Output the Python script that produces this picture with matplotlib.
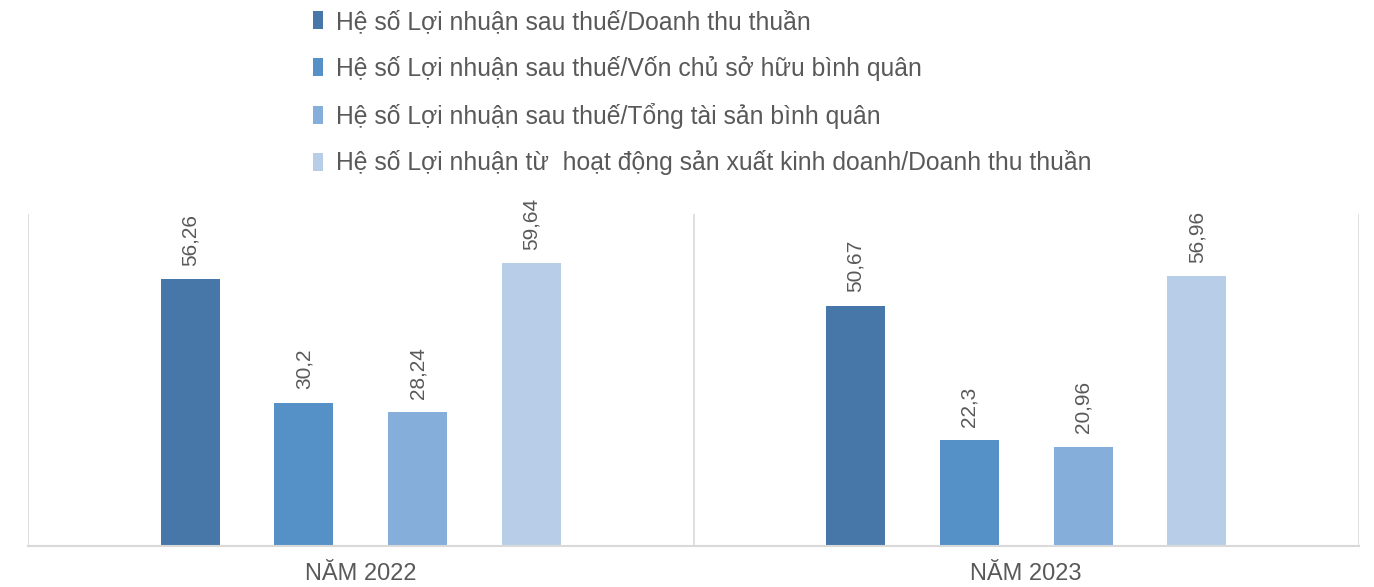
import matplotlib.pyplot as plt
from matplotlib.patches import Patch
import numpy as np

plt.rcParams['font.family'] = ['Liberation Sans', 'DejaVu Sans']

# data
categories = ["NĂM 2022", "NĂM 2023"]
series_names = [
    "Hệ số Lợi nhuận sau thuế/Doanh thu thuần",
    "Hệ số Lợi nhuận sau thuế/Vốn chủ sở hữu bình quân",
    "Hệ số Lợi nhuận sau thuế/Tổng tài sản bình quân",
    "Hệ số Lợi nhuận từ  hoạt động sản xuất kinh doanh/Doanh thu thuần",
]
loi_nhuan_doanh_thu = [56.26, 50.67]
loi_nhuan_von_csh = [30.2, 22.3]
loi_nhuan_tong_ts = [28.24, 20.96]
loi_nhuan_sxkd = [59.64, 56.96]
label_text = [["56,26", "50,67"], ["30,2", "22,3"], ["28,24", "20,96"], ["59,64", "56,96"]]

colors = ["#4677A8", "#5590C7", "#85AEDB", "#B8CEE8"]
grey = "#D9D9D9"
text_grey = "#595959"

fig = plt.figure(figsize=(13.74, 5.87), dpi=100)
ax = fig.add_axes([28 / 1374, 1 - 546 / 587, (1359 - 28) / 1374, (546 - 214) / 587])

all_series = [loi_nhuan_doanh_thu, loi_nhuan_von_csh, loi_nhuan_tong_ts, loi_nhuan_sxkd]
x = np.arange(len(categories))
width = 0.0887
step = 0.171
for i, vals in enumerate(all_series):
    pos = x + (i - 1.5) * step
    ax.bar(pos, vals, width=width, color=colors[i], zorder=2)
    for p, v, t in zip(pos, vals, label_text[i]):
        ax.text(p, v + 2.8, t, rotation=90, ha="center", va="bottom",
                fontsize=15, color=text_grey)

ax.set_xlim(-0.5, 1.5)
ax.set_ylim(0, 70)
for xv in [-0.5, 0.5, 1.5]:
    ax.axvline(xv, color=grey, lw=1.2, zorder=1)
for s in ["left", "right", "top"]:
    ax.spines[s].set_visible(False)
ax.spines["bottom"].set_color(grey)
ax.spines["bottom"].set_linewidth(1.5)
ax.set_yticks([])
ax.set_xticks(x)
ax.set_xticklabels(categories, fontsize=17, color=text_grey)
ax.tick_params(axis="x", length=0, pad=12)

handles = [Patch(facecolor=c, edgecolor="none") for c in colors]
fig.legend(handles, series_names, loc="upper left", bbox_to_anchor=(313 / 1374, 1 - 10 / 587),
           frameon=False, fontsize=17.8, labelcolor=text_grey, handlelength=0.42,
           handleheight=0.75, handletextpad=0.5, labelspacing=0.88,
           borderpad=0, borderaxespad=0)

fig.savefig("out.png", dpi=100)
